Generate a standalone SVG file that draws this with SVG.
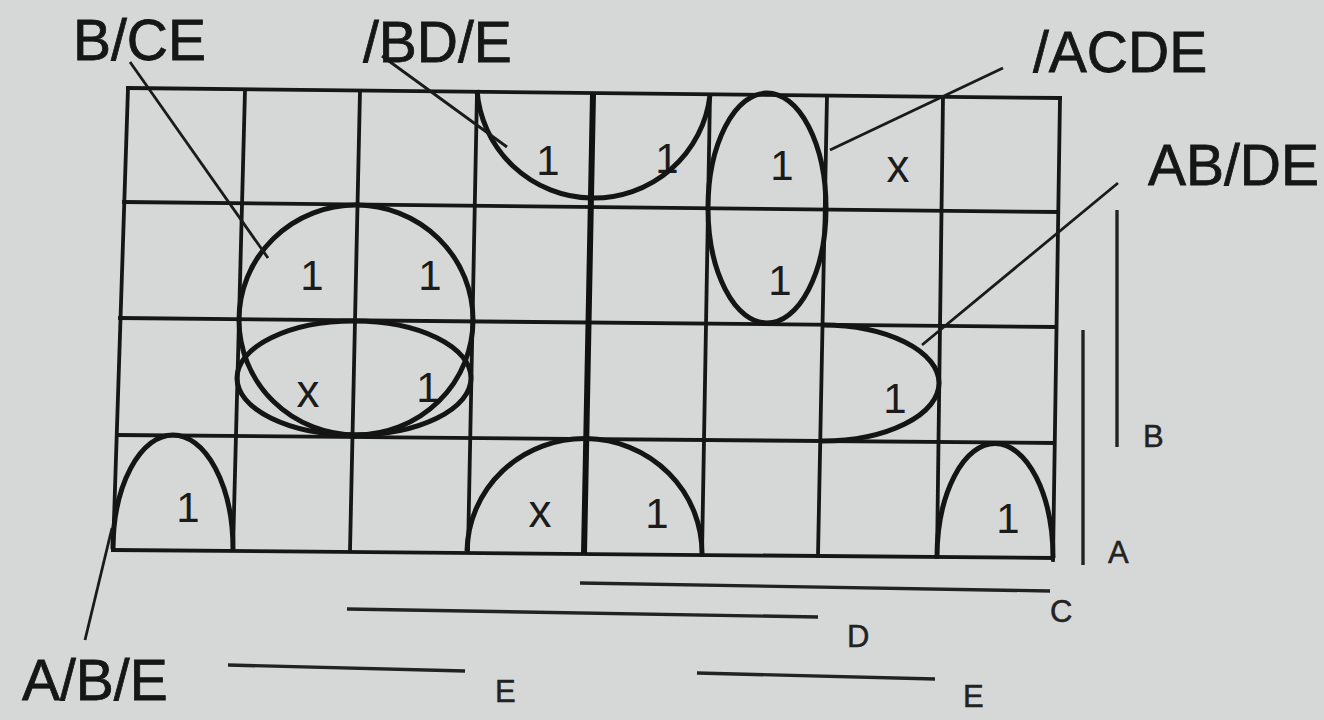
<svg xmlns="http://www.w3.org/2000/svg" width="1324" height="720" viewBox="0 0 1324 720">
<style>
.bg{fill:#d5d8d7}
.g{stroke:#161616;stroke-width:3.8;fill:none;stroke-linecap:square}
.gt{stroke:#111;stroke-width:6;fill:none}
.loop{stroke:#141414;stroke-width:5;fill:none}
.lead{stroke:#1a1a1a;stroke-width:2.8;fill:none}
.bar{stroke:#222;stroke-width:3.4;fill:none}
.v{font-family:"Liberation Sans",Arial,sans-serif;font-size:42px;fill:#1b1b1b;text-anchor:middle}
.x{font-family:"Liberation Sans",Arial,sans-serif;font-size:46px;fill:#1b1b1b;text-anchor:middle}
.big{font-family:"Liberation Sans",Arial,sans-serif;font-size:57px;fill:#161616;stroke:#161616;stroke-width:0.8}
.sm{font-family:"Liberation Sans",Arial,sans-serif;font-size:31px;fill:#222;stroke:#222;stroke-width:0.5}
</style>
<rect class="bg" x="0" y="0" width="1324" height="720"/>
<g id="grid">
<line class="g" x1="128" y1="88" x2="1060" y2="98"/>
<line class="g" x1="124" y1="202" x2="1058" y2="212"/>
<line class="g" x1="120" y1="318" x2="1056" y2="327"/>
<line class="g" x1="117" y1="435" x2="1054" y2="443"/>
<line class="g" x1="113" y1="550" x2="1053" y2="558"/>
<line class="g" x1="128" y1="88" x2="113" y2="550"/>
<line class="g" x1="245" y1="90" x2="233" y2="550"/>
<line class="g" x1="360" y1="91" x2="350" y2="551"/>
<line class="g" x1="477" y1="92" x2="468" y2="552"/>
<line class="gt" x1="593" y1="94" x2="584" y2="554"/>
<line class="g" x1="710" y1="95" x2="702" y2="555"/>
<line class="g" x1="827" y1="96" x2="818" y2="556"/>
<line class="g" x1="943" y1="97" x2="937" y2="557"/>
<line class="g" x1="1060" y1="98" x2="1053" y2="560"/>
</g>
<g id="cells">
<text class="v" x="548" y="175">1</text>
<text class="v" x="667" y="173">1</text>
<text class="v" x="782" y="180">1</text>
<text class="x" x="898" y="182">x</text>
<text class="v" x="312" y="290">1</text>
<text class="v" x="430" y="290">1</text>
<text class="v" x="780" y="295">1</text>
<text class="x" x="308" y="407">x</text>
<text class="v" x="428" y="402">1</text>
<text class="v" x="895" y="413">1</text>
<text class="v" x="188" y="522">1</text>
<text class="x" x="540" y="527">x</text>
<text class="v" x="657" y="528">1</text>
<text class="v" x="1008" y="533">1</text>
</g>
<g id="loop-BCE"><ellipse class="loop" cx="356" cy="320" rx="117" ry="115"/></g>
<g id="loop-row2-inner"><ellipse class="loop" cx="354" cy="378" rx="117" ry="57"/></g>
<g id="loop-BDE"><path class="loop" d="M477,90 A117 116 0 0 0 710,95"/></g>
<g id="loop-ACDE"><ellipse class="loop" cx="767" cy="208" rx="59" ry="115"/></g>
<g id="loop-ABDE"><path class="loop" d="M822,325 A117 58 0 0 1 822,441"/></g>
<g id="loop-ABE-left"><path class="loop" d="M113,549 A60 114 0 0 1 233,549"/></g>
<g id="loop-mid-bottom"><path class="loop" d="M467,551 A117 114 0 0 1 702,555"/></g>
<g id="loop-ABE-right"><path class="loop" d="M937,557 A58 114 0 0 1 1053,558"/></g>
<g id="connectors">
<line class="lead" x1="130" y1="62" x2="268" y2="258"/>
<line class="lead" x1="382" y1="56" x2="507" y2="147"/>
<line class="lead" x1="1003" y1="68" x2="830" y2="150"/>
<line class="lead" x1="1118" y1="183" x2="922" y2="345"/>
<line class="lead" x1="85" y1="640" x2="112" y2="528"/>
</g>
<g id="labels">
<text class="big" x="73" y="60">B/CE</text>
<text class="big" x="363" y="62">/BD/E</text>
<text class="big" x="1033" y="72">/ACDE</text>
<text class="big" x="1148" y="185">AB/DE</text>
<text class="big" x="22" y="700">A/B/E</text>
</g>
<g id="var-bars">
<line class="bar" x1="1117" y1="210" x2="1117" y2="447"/>
<line class="bar" x1="1083" y1="330" x2="1083" y2="565"/>
<line class="bar" x1="580" y1="583" x2="1050" y2="591"/>
<line class="bar" x1="347" y1="609" x2="818" y2="617"/>
<line class="bar" x1="228" y1="665" x2="465" y2="671"/>
<line class="bar" x1="697" y1="673" x2="935" y2="679"/>
<text class="sm" x="1143" y="447">B</text>
<text class="sm" x="1108" y="563">A</text>
<text class="sm" x="1050" y="622">C</text>
<text class="sm" x="847" y="647">D</text>
<text class="sm" x="495" y="702">E</text>
<text class="sm" x="963" y="707">E</text>
</g>
</svg>
